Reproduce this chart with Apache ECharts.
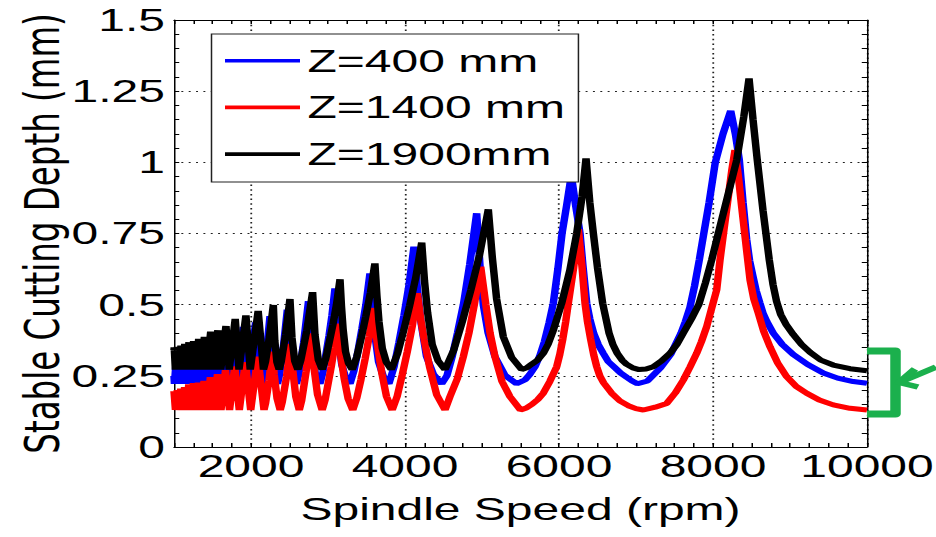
<!DOCTYPE html>
<html>
<head>
<meta charset="utf-8">
<script src="https://cdn.jsdelivr.net/npm/echarts@6/dist/echarts.min.js"></script>
<style>
html,body{margin:0;padding:0;background:#fff;}
#wrap{width:936px;height:537px;overflow:hidden;position:relative;background:#fff;}
#chart{width:624px;height:537px;transform:scaleX(1.5);transform-origin:0 0;}
</style>
</head>
<body>
<div id="wrap"><div id="chart"></div></div>
<script>
// ---------- data ----------
const seriesNames = ['Z=400 mm', 'Z=1400 mm', 'Z=1900mm'];
const seriesColors = ['#0000ff', '#ff0000', '#000000'];
const xMin = 1000, xMax = 10000, xTickStep = 250, xLabelStep = 2000;
const yMin = 0, yMax = 1.5, yTickStep = 0.25, yMinorSplit = 5;
const xTitle = 'Spindle Speed (rpm)';
const yTitle = 'Stable Cutting Depth (mm)';

// [spindle speed (rpm), stable cutting depth (mm)]
const z400 = [
[1000,.25],[1006,.222],[1029,.306],[1048,.222],[1074,.31],[1095,.222],[1123,.316],[1146,.222],[1176,.322],[1201,.222],[1235,.327],[1263,.222],[1300,.335],[1331,.222],[1373,.342],[1407,.222],[1453,.362],[1492,.222],[1544,.367],[1588,.222],[1647,.382],[1698,.222],[1765,.409],[1823,.222],[1901,.422],[1969,.222],[2060,.438],[2140,.222],
[2161,.251],[2204,.341],[2247,.46],[2271,.329],[2305,.251],[2344,.222],
[2370,.253],[2421,.352],[2472,.482],[2502,.339],[2543,.253],[2590,.222],
[2621,.257],[2684,.367],[2747,.512],[2784,.353],[2836,.257],[2895,.222],
[2934,.262],[3013,.39],[3052,.463],[3091,.557],[3114,.457],[3140,.373],[3179,.289],[3228,.245],[3286,.222],
[3338,.269],[3390,.338],[3441,.416],[3493,.501],[3545,.61],[3575,.494],[3607,.397],[3656,.30],[3717,.249],[3791,.222],
[3856,.28],[3921,.367],[3987,.463],[4052,.569],[4117,.704],[4160,.559],[4207,.439],[4279,.318],[4368,.256],[4476,.222],
[4544,.25],[4612,.317],[4681,.40],[4758,.50],[4840,.64],[4931,.821],[4973,.64],[5017,.499],[5080,.40],[5169,.317],[5299,.252],[5450,.222],
[5560,.236],[5620,.255],[5688,.282],[5750,.32],[5810,.37],[5870,.435],[5926,.505],[5985,.625],[6040,.751],[6100,.85],[6160,.955],
[6215,.85],[6273,.751],[6310,.64],[6360,.505],[6400,.45],[6450,.40],[6510,.36],[6575,.329],[6640,.30],[6720,.28],[6800,.26],[6879,.245],[6950,.232],[7019,.222],
[7150,.232],[7318,.278],[7450,.325],[7585,.40],[7640,.44],[7700,.49],[7760,.565],[7822,.657],[7874,.74],[7950,.86],[8030,1.0],[8130,1.1],[8230,1.181],
[8290,1.1],[8342,1.008],[8390,.86],[8437,.73],[8475,.655],[8515,.605],[8560,.55],[8610,.505],[8650,.47],[8700,.44],[8783,.40],[8900,.36],[9043,.325],[9230,.29],[9432,.26],[9620,.242],[9822,.23],[10000,.224]
];

const z1400 = [
[1000,.196],[1001,.197],[1019,.13],[1043,.2],[1062,.13],[1088,.205],[1110,.13],[1138,.21],[1161,.13],[1192,.22],[1218,.13],[1252,.224],[1280,.13],[1318,.226],[1349,.13],[1391,.232],[1426,.13],[1473,.245],[1513,.13],[1565,.256],[1610,.13],[1669,.27],[1721,.13],[1789,.283],[1848,.13],[1927,.298],[1996,.13],[2088,.317],[2169,.13],
[2190,.155],[2233,.233],[2276,.335],[2302,.253],[2338,.171],[2379,.13],
[2406,.158],[2461,.246],[2515,.362],[2543,.269],[2582,.176],[2627,.13],
[2657,.162],[2716,.265],[2775,.399],[2812,.291],[2864,.184],[2924,.13],
[2963,.166],[3042,.282],[3082,.348],[3121,.433],[3145,.366],[3171,.312],[3211,.239],[3262,.169],[3322,.13],
[3375,.173],[3428,.237],[3482,.309],[3535,.388],[3588,.488],[3618,.409],[3650,.345],[3699,.259],[3760,.177],[3834,.13],
[3899,.179],[3964,.253],[4030,.335],[4095,.425],[4160,.54],[4203,.45],[4250,.376],[4322,.278],[4412,.183],[4520,.13],
[4584,.177],[4680,.24],[4757,.317],[4830,.40],[4900,.50],[4983,.633],[5050,.50],[5105,.40],[5169,.317],[5260,.23],[5363,.177],[5500,.13],
[5575,.137],[5650,.15],[5725,.167],[5796,.189],[5880,.23],[5970,.282],[6010,.325],[6050,.38],[6087,.44],[6121,.505],[6190,.63],[6251,.765],
[6300,.63],[6338,.505],[6370,.44],[6410,.38],[6450,.325],[6490,.282],[6530,.25],[6580,.225],[6684,.189],[6790,.162],[6900,.145],[7000,.135],[7095,.13],
[7250,.14],[7398,.153],[7510,.19],[7614,.235],[7700,.28],[7788,.329],[7850,.37],[7918,.423],[7980,.485],[8048,.552],[8091,.657],[8170,.82],[8243,.97],[8286,1.043],
[8330,.95],[8370,.85],[8437,.69],[8481,.587],[8530,.52],[8589,.47],[8660,.405],[8740,.352],[8840,.295],[8957,.247],[9080,.213],[9217,.189],[9380,.165],[9562,.148],[9780,.136],[10000,.13]
];

const z1900 = [
[1000,.34],[1003,.35],[1018,.272],[1045,.352],[1061,.272],[1091,.356],[1108,.272],[1140,.362],[1159,.272],[1195,.368],[1216,.272],[1255,.372],[1278,.272],[1321,.38],[1347,.272],[1395,.387],[1424,.272],[1477,.405],[1510,.272],[1570,.41],[1607,.272],[1675,.425],[1717,.272],[1795,.45],[1844,.272],[1934,.462],[1990,.272],[2093,.478],[2162,.272],
[2188,.299],[2239,.386],[2290,.499],[2309,.374],[2336,.299],[2366,.272],
[2394,.302],[2450,.396],[2506,.52],[2532,.384],[2568,.302],[2609,.272],
[2647,.305],[2724,.408],[2800,.544],[2831,.394],[2875,.305],[2925,.272],
[2971,.31],[3064,.43],[3110,.5],[3156,.589],[3175,.494],[3196,.415],[3228,.335],[3267,.294],[3315,.272],
[3374,.317],[3433,.384],[3491,.459],[3550,.541],[3609,.645],[3635,.533],[3662,.44],[3705,.347],[3758,.298],[3822,.272],
[3901,.326],[3980,.406],[4059,.495],[4138,.593],[4217,.718],[4253,.584],[4293,.473],[4353,.361],[4429,.303],[4520,.272],
[4632,.34],[4745,.441],[4857,.553],[4970,.677],[5082,.835],[5134,.666],[5190,.52],[5277,.387],[5385,.315],[5515,.272],
[5580,.278],[5640,.29],[5720,.305],[5796,.329],[5860,.362],[5920,.405],[6035,.505],[6140,.62],[6230,.751],[6300,.88],[6351,1.014],
[6400,.86],[6446,.751],[6500,.63],[6567,.505],[6650,.40],[6700,.36],[6757,.329],[6820,.305],[6880,.29],[6960,.278],[7040,.272],
[7130,.274],[7225,.282],[7330,.302],[7441,.329],[7530,.36],[7614,.40],[7720,.45],[7818,.502],[7900,.575],[7983,.657],[8069,.751],[8308,1.008],[8400,1.16],[8468,1.295],
[8520,1.15],[8575,1.008],[8650,.83],[8731,.657],[8780,.57],[8827,.51],[8880,.465],[8950,.43],[9043,.395],[9150,.36],[9260,.333],[9400,.305],[9562,.288],[9780,.275],[10000,.268]
];
const seriesData = [z400, z1400, z1900];

// ---------- chart ----------
const FONT = '"Liberation Sans", Arial, sans-serif';
const GRID_COLOR = '#222';
const CLEAR = 'rgba(0,0,0,0)';
// x split lines only at labelled ticks: cycle colours over the 250-rpm ticks
const perLabel = xLabelStep / xTickStep;
const firstOffset = ((xLabelStep - (xMin % xLabelStep)) % xLabelStep) / xTickStep;
const xGridColors = [];
for (let i = 0; i < perLabel; i++) xGridColors.push(i === firstOffset ? GRID_COLOR : CLEAR);

const chart = echarts.init(document.getElementById('chart'), null, {renderer: 'svg'});

const axisLineStyle = {show: true, onZero: false, lineStyle: {color: '#000', width: 1}};
const textBase = {fontFamily: FONT, fontSize: 32, color: '#000'};

const option = {
  animation: false,
  backgroundColor: '#fff',
  grid: {left: 116, right: 46, top: 20, bottom: 90, containLabel: false, outerBoundsMode: 'none'},
  legend: {
    data: seriesNames,
    orient: 'vertical',
    left: 141, top: 34,
    padding: [8.7, 9, 10, 9],
    itemGap: 10.7,
    icon: 'rect',
    itemWidth: 50, itemHeight: 3.6,
    backgroundColor: '#fff',
    borderColor: '#222', borderWidth: 1, borderRadius: 0,
    selectedMode: false,
    textStyle: Object.assign({lineHeight: 36}, textBase),
    z: 10
  },
  xAxis: [{
    type: 'value', min: xMin, max: xMax, interval: xTickStep, position: 'bottom',
    name: xTitle, nameLocation: 'middle', nameGap: 46, nameMoveOverlap: false,
    nameTextStyle: Object.assign({}, textBase),
    axisLine: axisLineStyle,
    axisTick: {show: true, inside: true, length: 4, lineStyle: {color: '#000', width: 1}},
    axisLabel: Object.assign({show: true, margin: 3, hideOverlap: false,
      formatter: v => (v % xLabelStep === 0 ? String(v) : '')}, textBase),
    splitLine: {show: true, lineStyle: {color: xGridColors, type: [1.5, 3.2], width: 1.2}}
  }, {
    type: 'value', min: xMin, max: xMax, interval: xTickStep, position: 'top',
    axisLine: axisLineStyle,
    axisTick: {show: true, inside: true, length: 4, lineStyle: {color: '#000', width: 1}},
    axisLabel: {show: false},
    splitLine: {show: false}
  }],
  yAxis: [{
    type: 'value', min: yMin, max: yMax, interval: yTickStep, position: 'left',
    name: yTitle, nameLocation: 'middle', nameGap: 71, nameRotate: 90, nameMoveOverlap: false,
    nameTextStyle: {fontFamily: '"DejaVu Sans", sans-serif', fontSize: 32.5, color: '#000'},
    axisLine: axisLineStyle,
    axisTick: {show: true, inside: true, length: 3.5, lineStyle: {color: '#000', width: 1}},
    minorTick: {show: true, splitNumber: yMinorSplit, length: 3.5, lineStyle: {color: '#000', width: 1}},
    axisLabel: Object.assign({show: true, margin: 6, hideOverlap: false}, textBase),
    splitLine: {show: true, lineStyle: {color: GRID_COLOR, type: [1.3, 3.6], width: 1.2}}
  }, {
    type: 'value', min: yMin, max: yMax, interval: yTickStep, position: 'right',
    axisLine: axisLineStyle,
    axisTick: {show: true, inside: true, length: 3.5, lineStyle: {color: '#000', width: 1}},
    minorTick: {show: true, splitNumber: yMinorSplit, length: 3.5, lineStyle: {color: '#000', width: 1}},
    axisLabel: {show: false},
    splitLine: {show: false}
  }],
  series: seriesNames.map((name, i) => ({
    name: name,
    type: 'line',
    xAxisIndex: 0, yAxisIndex: 0,
    data: seriesData[i],
    symbol: 'none', showSymbol: false,
    smooth: false,
    clip: true,
    silent: true,
    lineStyle: {color: seriesColors[i], width: 5},
    itemStyle: {color: seriesColors[i]},
    emphasis: {disabled: true},
    z: 2 + i
  })),
  graphic: [
    {type: 'polyline', z: 20, silent: true,
     shape: {points: [[578, 351], [597, 351], [597, 414], [578, 414]]},
     style: {stroke: '#1bb04d', lineWidth: 7, fill: null, lineJoin: 'round'}},
    {type: 'polyline', z: 20, silent: true,
     shape: {points: [[624, 367], [599.5, 382.5]]},
     style: {stroke: '#1bb04d', lineWidth: 5.5, fill: null}},
    {type: 'polyline', z: 20, silent: true,
     shape: {points: [[610, 369], [599.5, 382.5], [612, 387]]},
     style: {stroke: '#1bb04d', lineWidth: 5.5, fill: null, lineJoin: 'round'}}
  ]
};
chart.setOption(option);
</script>
</body>
</html>
